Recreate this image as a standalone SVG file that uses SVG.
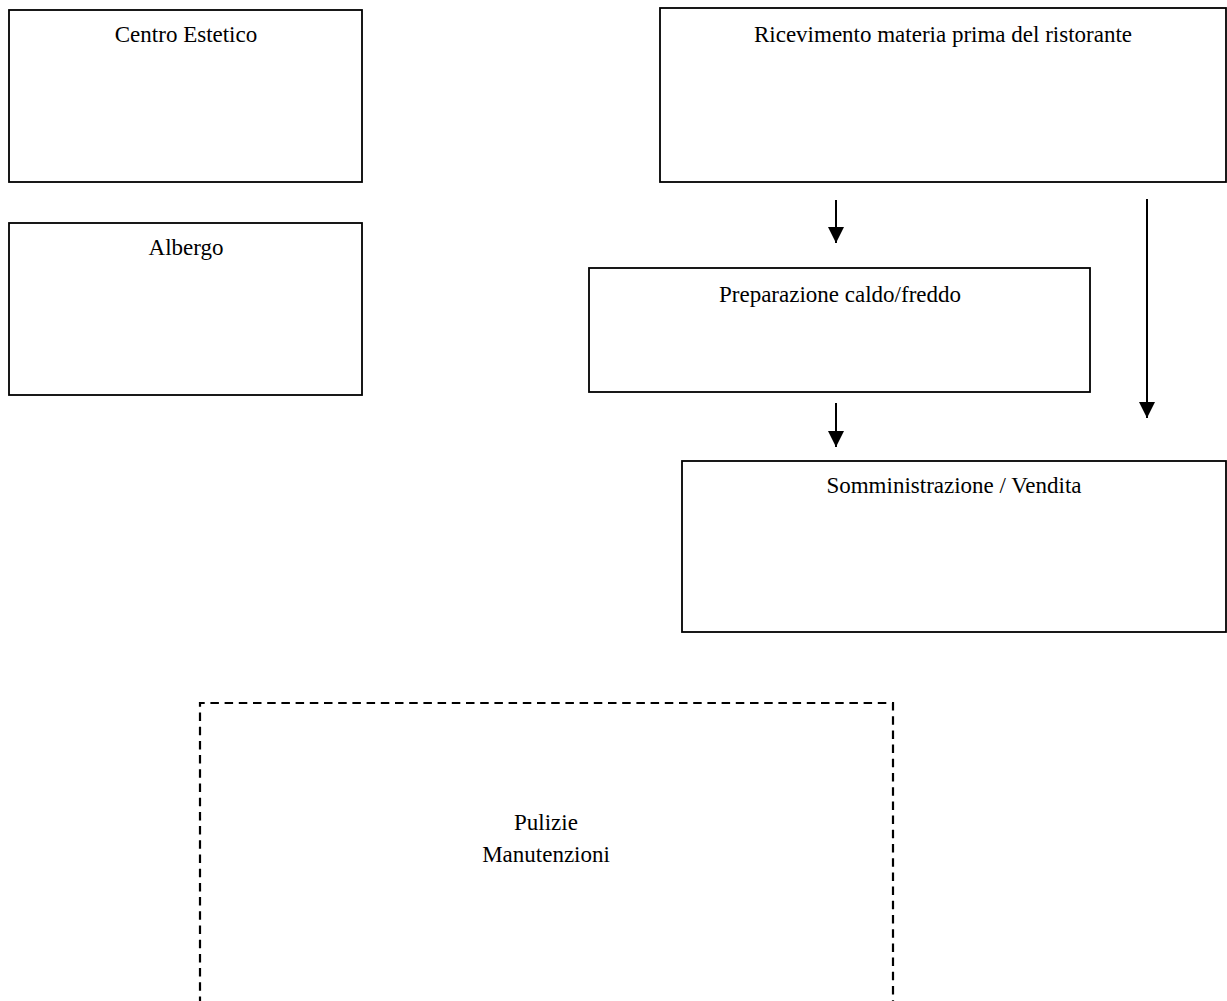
<svg xmlns="http://www.w3.org/2000/svg" width="1227" height="1001" viewBox="0 0 1227 1001">
  <style>
    .box { fill: #fff; stroke: #000; stroke-width: 1.8; }
    .dash { fill: none; stroke: #000; stroke-width: 2.2; stroke-dasharray: 8.5 5.7; }
    .lbl { font-family: "Liberation Serif", "Times New Roman", serif; font-size: 23px; fill: #000; text-anchor: middle; }
    .conn { stroke: #000; stroke-width: 2; fill: none; marker-end: url(#arrow); }
  </style>
  <defs>
    <marker id="arrow" markerUnits="userSpaceOnUse" markerWidth="16" markerHeight="16" refX="16" refY="8" orient="auto">
      <path d="M0,0 L16,8 L0,16 Z" fill="#000"/>
    </marker>
  </defs>
  <rect width="1227" height="1001" fill="#fff"/>

  <g id="centro-estetico">
    <rect class="box" x="9" y="10" width="353" height="172"/>
    <text class="lbl" x="186" y="42">Centro Estetico</text>
  </g>

  <g id="albergo">
    <rect class="box" x="9" y="223" width="353" height="172"/>
    <text class="lbl" x="186" y="255">Albergo</text>
  </g>

  <g id="ricevimento">
    <rect class="box" x="660" y="8" width="566" height="174"/>
    <text class="lbl" x="943" y="42">Ricevimento materia prima del ristorante</text>
  </g>

  <g id="preparazione">
    <rect class="box" x="589" y="268" width="501" height="124"/>
    <text class="lbl" x="840" y="302">Preparazione caldo/freddo</text>
  </g>

  <g id="somministrazione">
    <rect class="box" x="682" y="461" width="544" height="171"/>
    <text class="lbl" x="954" y="493">Somministrazione / Vendita</text>
  </g>

  <g id="pulizie">
    <path class="dash" d="M200,1005 V703 H893 V1005"/>
    <text class="lbl" x="546" y="830">Pulizie</text>
    <text class="lbl" x="546" y="862">Manutenzioni</text>
  </g>

  <g id="connectors">
    <line class="conn" x1="836" y1="200" x2="836" y2="243"/>
    <line class="conn" x1="1147" y1="199" x2="1147" y2="418"/>
    <line class="conn" x1="836" y1="403" x2="836" y2="447"/>
  </g>
</svg>
